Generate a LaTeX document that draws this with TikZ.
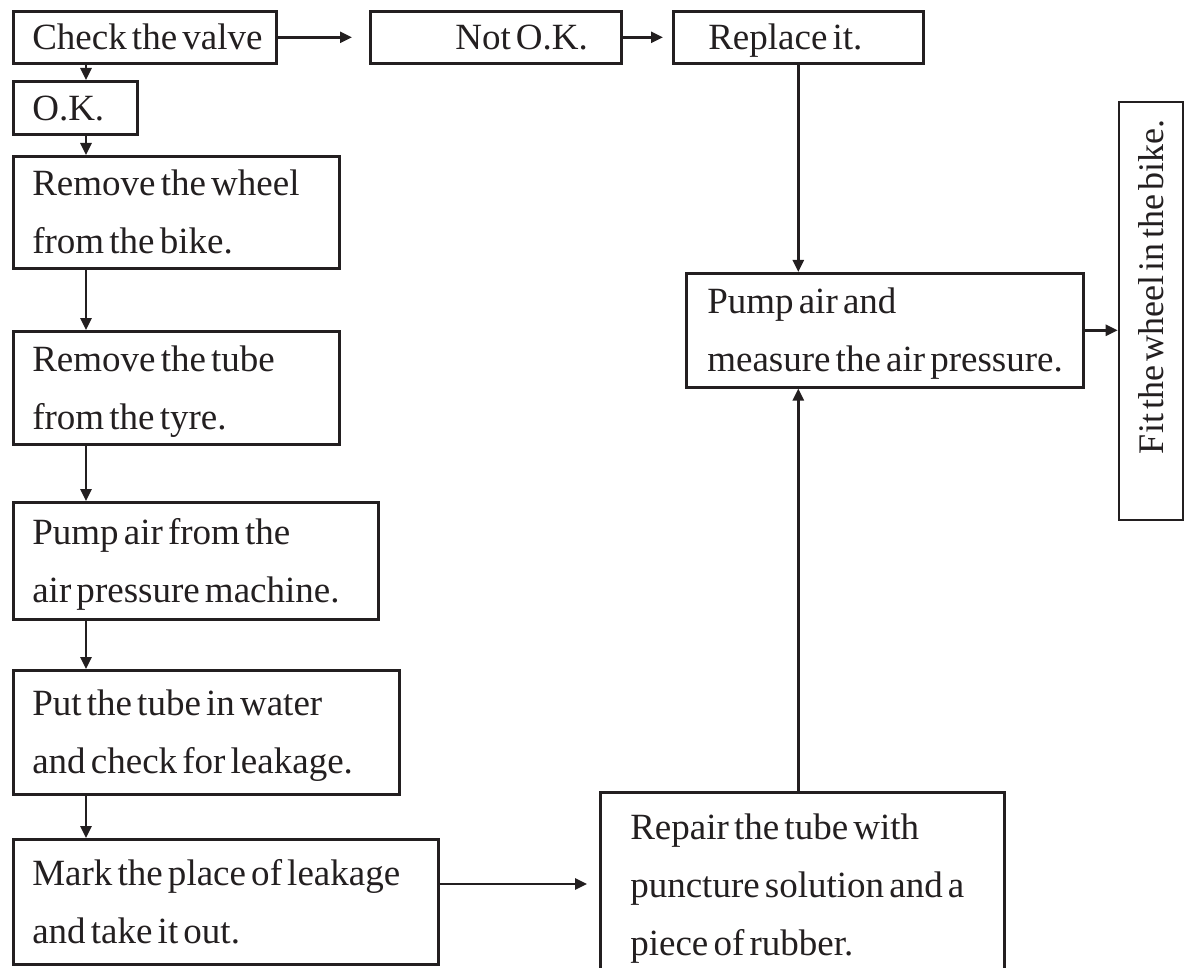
\documentclass[tikz,border=0pt]{standalone}
\usepackage{fontspec}
\setmainfont{Liberation Serif}
\usetikzlibrary{arrows.meta}
\definecolor{ink}{RGB}{35,31,32}
\newcommand{\topstrut}{\rule{0pt}{34pt}}
\newcommand{\botstrut}{\rule[-9pt]{0pt}{9pt}}
\begin{document}
\begin{tikzpicture}[x=1pt,y=-1pt,
  bx/.style n args={3}{draw=ink, text=ink, line width=2.6pt, rectangle, anchor=north west,
     inner sep=0pt, align=left, font=\fontsize{37}{58}\selectfont,
     text width=#1pt, minimum height=#2pt,
     execute at begin node={\leftskip=#3pt\spaceskip=0.14em plus 0.05em minus 0.02em\relax\topstrut},
     execute at end node={\botstrut}},
  vbx/.style={draw=ink, text=ink, line width=2.6pt, rectangle, rotate=90, anchor=center,
     inner sep=0pt, align=left, font=\fontsize{36}{58}\selectfont,
     text width=418pt, minimum height=64pt,
     execute at begin node={\leftskip=66pt\spaceskip=0.12em plus 0.05em minus 0.02em\relax\topstrut},
     execute at end node={\botstrut}},
  arr/.style={draw=ink, line width=2.6pt, -{Triangle[length=12pt,width=11pt]}},
]
\useasboundingbox (0,0) rectangle (1185,968);

\node[bx={263}{52}{19}] (check) at (12,10) {Check the valve};
\node[bx={251}{52}{85}] (notok) at (369,10) {Not O.K.};
\node[bx={250}{52}{35}] (replace) at (672,10) {Replace it.};
\node[bx={124}{53}{19}] (ok) at (12,80) {O.K.};
\node[bx={326}{112}{19}] (wheel) at (12,155) {Remove the wheel\\from the bike.};
\node[bx={326}{113}{19}] (tube) at (12,330) {Remove the tube\\from the tyre.};
\node[bx={365}{117}{19}] (pumpfrom) at (12,501) {Pump air from the\\air pressure machine.};
\node[bx={386}{124}{19}] (put) at (12,669) {Put the tube in water\\and check for leakage.};
\node[bx={425}{125}{19}] (mark) at (12,838) {Mark the place of leakage\\and take it out.};
\node[bx={404}{185}{30}] (repair) at (599,791) {Repair the tube with\\puncture solution and a\\piece of rubber.};
\node[bx={397}{114}{21}] (pumpair) at (685,272) {Pump air and\\measure the air pressure.};
\node[vbx] (fit) at (1151,311) {Fit the wheel in the bike.};

\coordinate (col) at (86,0);
\coordinate (mr) at (0,884);

\draw[arr, shorten >=17pt] (check.east) -- (notok.west);
\draw[arr, shorten >=9pt] (notok.east) -- (replace.west);
\draw[arr] (replace.south) -- (replace.south |- pumpair.north);
\draw[arr] (check.south -| col) -- (ok.north -| col);
\draw[arr] (ok.south -| col) -- (wheel.north -| col);
\draw[arr] (wheel.south -| col) -- (tube.north -| col);
\draw[arr] (tube.south -| col) -- (pumpfrom.north -| col);
\draw[arr] (pumpfrom.south -| col) -- (put.north -| col);
\draw[arr] (put.south -| col) -- (mark.north -| col);
\draw[arr, shorten >=12pt] (mark.east |- mr) -- (repair.west |- mr);
\draw[arr] (repair.north -| replace.south) -- (pumpair.south -| replace.south);
\draw[arr] (pumpair.east) -- (pumpair.east -| fit.north);
\end{tikzpicture}
\end{document}
